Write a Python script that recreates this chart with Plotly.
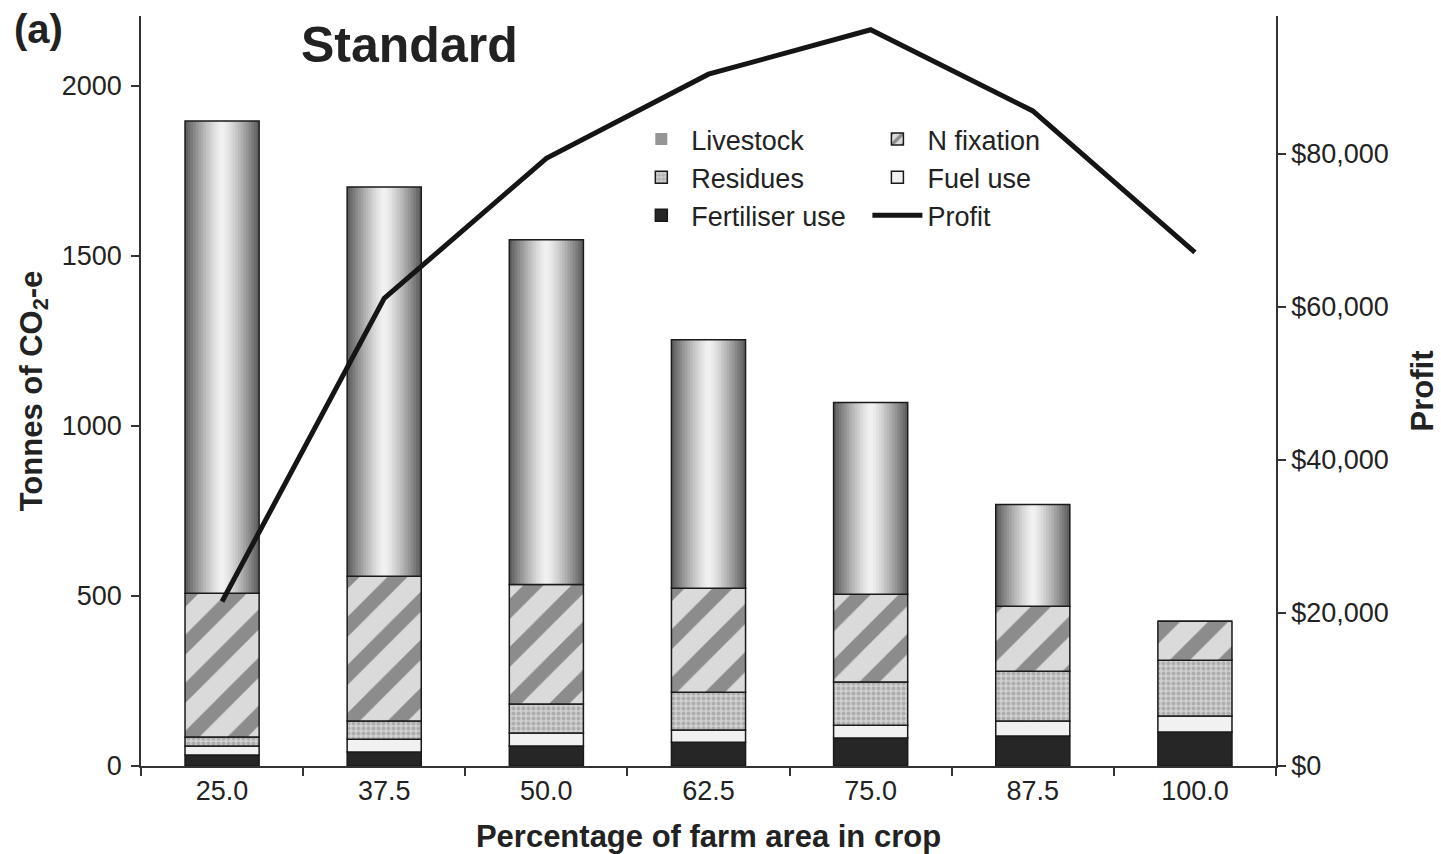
import plotly.graph_objects as go

categories = ["25.0", "37.5", "50.0", "62.5", "75.0", "87.5", "100.0"]
fertiliser = [32, 41, 59, 70, 82, 88, 100]
fuel = [27, 38, 38, 36, 38, 44, 47]
residues = [26, 53, 85, 111, 127, 147, 164]
n_fixation = [423, 426, 352, 306, 258, 191, 115]
livestock = [1389, 1145, 1014, 731, 564, 299, 0]
profit = [21500, 61100, 79400, 90400, 96200, 85600, 67100]
left_ticks = [0, 500, 1000, 1500, 2000]
right_ticks = [0, 20000, 40000, 60000, 80000]
right_labels = ["$0", "$20,000", "$40,000", "$60,000", "$80,000"]

FONT = "Liberation Sans, Arial, sans-serif"
INK = "#222222"
BAR_W = 0.457
edge = dict(color="#1a1a1a", width=1.5)

# stacking bases, computed from the series
base_fuel = [a for a in fertiliser]
base_res = [a + b for a, b in zip(base_fuel, fuel)]
base_nfix = [a + b for a, b in zip(base_res, residues)]
base_live = [a + b for a, b in zip(base_nfix, n_fixation)]

fig = go.Figure()
fig.add_trace(go.Bar(x=categories, y=fertiliser, base=[0] * len(categories), width=BAR_W,
                     name="Fertiliser use",
                     marker=dict(color="#262626", line=edge),
                     legend="legend", legendrank=3))
fig.add_trace(go.Bar(x=categories, y=fuel, base=base_fuel, width=BAR_W, name="Fuel use",
                     marker=dict(color="#f1f1f1", line=edge),
                     legend="legend2", legendrank=2))
fig.add_trace(go.Bar(x=categories, y=residues, base=base_res, width=BAR_W, name="Residues",
                     marker=dict(color="#c4c4c4", line=edge,
                                 pattern=dict(shape=".", fgcolor="#8a8a8a",
                                              bgcolor="#d0d0d0", size=5, solidity=0.5)),
                     legend="legend", legendrank=2))
fig.add_trace(go.Bar(x=categories, y=n_fixation, base=base_nfix, width=BAR_W, name="N fixation",
                     marker=dict(color="#9a9a9a", line=edge,
                                 pattern=dict(shape="/", fgcolor="#3e3e3e",
                                              bgcolor="#dadada", size=34, solidity=0.42)),
                     legend="legend2", legendrank=1))

# Livestock: cylinder-like shading built from concentric layers of the same bar
n_layers = 14
dark, light = 88, 242
for k in range(n_layers):
    frac = 1 - k / n_layers
    r = 1 - (k + 0.5) / n_layers
    g = int(round(light - (light - dark) * r ** 1.3))
    col = f"rgb({g},{g},{g})"
    fig.add_trace(go.Bar(x=categories, y=livestock, base=base_live, width=BAR_W * frac,
                         name="Livestock", marker=dict(color=col, line=dict(width=0)),
                         showlegend=(k == 4), legend="legend", legendrank=1,
                         hoverinfo="skip"))
fig.add_trace(go.Bar(x=categories, y=livestock, base=base_live, width=BAR_W,
                     name="Livestock", showlegend=False,
                     marker=dict(color="rgba(0,0,0,0)", line=edge), hoverinfo="skip"))

fig.add_trace(go.Scatter(x=categories, y=profit, name="Profit", yaxis="y2",
                         mode="lines", line=dict(color="#151515", width=5),
                         legend="legend2", legendrank=3))

axis_common = dict(showline=True, linecolor="#333333", linewidth=1.5,
                   ticks="outside", ticklen=8, tickcolor="#333333", tickwidth=1.5,
                   showgrid=False, zeroline=False, automargin=False,
                   tickfont=dict(family=FONT, size=27, color=INK))

fig.update_layout(
    width=1441, height=854, autosize=False,
    margin=dict(l=141, r=165, t=16, b=88),
    paper_bgcolor="white", plot_bgcolor="white",
    barmode="overlay",
    font=dict(family=FONT, color=INK),
    xaxis=dict(type="category", tickson="boundaries",
               title=dict(text="<b>Percentage of farm area in crop</b>",
                          font=dict(family=FONT, size=31, color=INK), standoff=20),
               **axis_common),
    yaxis=dict(range=[0, 2206], tickvals=left_ticks,
               ticklabelstandoff=4,
               title=dict(text="<b>Tonnes of CO<sub>2</sub>-e</b>",
                          font=dict(family=FONT, size=31, color=INK), standoff=10),
               **axis_common),
    yaxis2=dict(range=[0, 98000], tickvals=right_ticks, ticktext=right_labels,
                overlaying="y", side="right", ticklabelstandoff=0,
                title=dict(text="<b>Profit</b>",
                           font=dict(family=FONT, size=31, color=INK), standoff=24),
                **axis_common),
    legend=dict(x=0.432, y=0.868, xanchor="left", yanchor="top", traceorder="normal",
                bgcolor="rgba(0,0,0,0)", font=dict(family=FONT, size=27, color=INK),
                itemwidth=50, tracegroupgap=0),
    legend2=dict(x=0.640, y=0.868, xanchor="left", yanchor="top", traceorder="normal",
                 bgcolor="rgba(0,0,0,0)", font=dict(family=FONT, size=27, color=INK),
                 itemwidth=50, tracegroupgap=0),
    showlegend=True,
    annotations=[
        dict(text="<b>Standard</b>", xref="paper", yref="paper", x=0.237, y=0.961,
             xanchor="center", yanchor="middle", showarrow=False,
             font=dict(family=FONT, size=50, color=INK)),
        dict(text="<b>(a)</b>", xref="paper", yref="paper", x=-0.090, y=0.983,
             xanchor="center", yanchor="middle", showarrow=False,
             font=dict(family=FONT, size=40, color=INK)),
    ],
)

fig.write_html("out.html", config={"displayModeBar": False},
               post_script="document.body.style.margin='0px';")
